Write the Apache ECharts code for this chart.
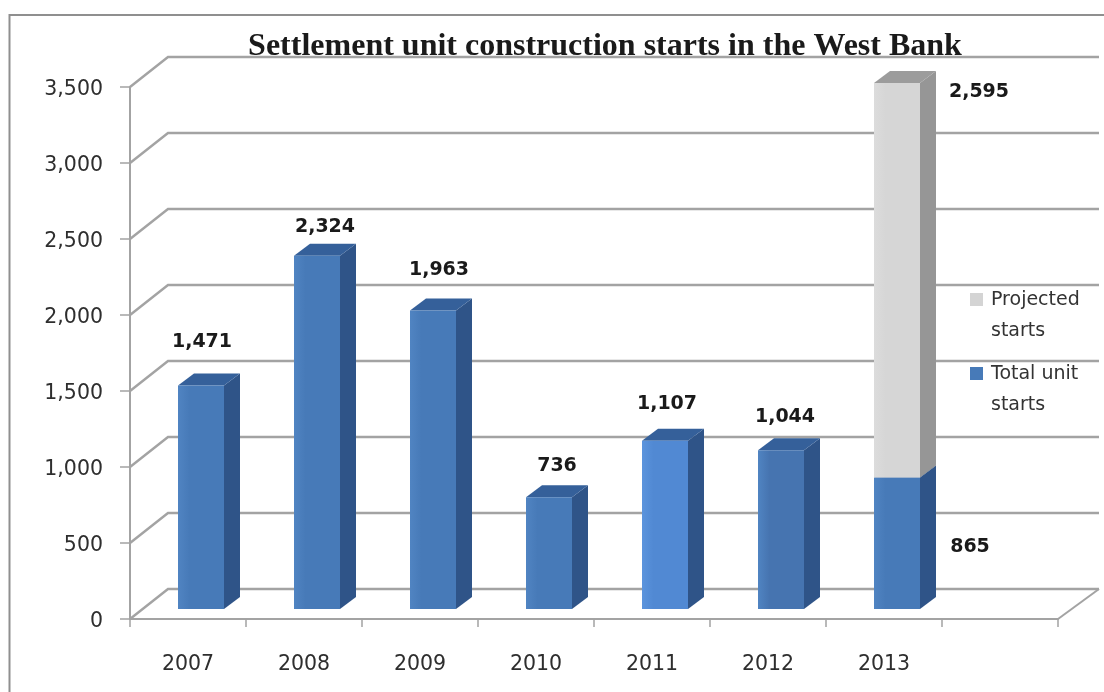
<!DOCTYPE html>
<html>
<head>
<meta charset="utf-8">
<style>html,body{margin:0;padding:0;background:#fff}#c{width:1104px;height:692px}</style>
<script src="https://cdn.jsdelivr.net/npm/echarts@6/dist/echarts.min.js"></script>
</head>
<body>
<div id="c"></div>
<script>
const categories = ['2007','2008','2009','2010','2011','2012','2013',''];
const totalUnitStarts = [1471,2324,1963,736,1107,1044,865,null];
const projectedStarts = [null,null,null,null,null,null,2595,null];
const yTicks = [0,500,1000,1500,2000,2500,3000,3500];

// Styling, kept apart from the data
const WALL = {dx:38, dy:-30, overrun:3};
const BAR = {inset:48, width:46, floorDy:-10, sideDx:16, sideDy:-12};
const frontColors = ['#477ab8','#477ab8','#477ab8','#477ab8','#5189d3','#4674b0','#477ab8',null];
const labelNudge = [[1,-43],[8,-29],[6,-41],[8,-31],[2,-37],[4,-33],[73,4],[0,0]];

const fmt = v => v.toLocaleString('en-US');

function poly(points, fill){
  return {type:'polygon', shape:{points}, style:{fill}};
}
function labelText(x,y,v){
  return {type:'text', z2:10, style:{x,y,text:fmt(v),align:'center',verticalAlign:'middle',
    font:'bold 19px "DejaVu Sans"',fill:'#1a1a1a'}};
}
function drawBar(params, api, colors, base, nudge){
  const i = api.value(0), v = api.value(1);
  const cs = params.coordSys;
  const band = api.size([1,0])[0];
  const left = cs.x + band*i + BAR.inset;
  const right = left + BAR.width;
  const y0 = api.coord([i, base])[1] + BAR.floorDy;
  const y1 = api.coord([i, base+v])[1] + BAR.floorDy;
  const sx = BAR.sideDx, sy = BAR.sideDy;
  const kids = [
    poly([[right,y0],[right+sx,y0+sy],[right+sx,y1+sy],[right,y1]], colors.side),
    poly([[left,y1],[right,y1],[right+sx,y1+sy],[left+sx,y1+sy]], colors.top),
    {type:'rect', shape:{x:left,y:y1,width:BAR.width,height:y0-y1},
      style:{fill:new echarts.graphic.LinearGradient(0,0,1,0,[
        {offset:0,color:colors.edge},{offset:0.25,color:colors.front},{offset:1,color:colors.front}])}}
  ];
  kids.push(labelText((left+right)/2+nudge[0], (nudge.fromMid?(y0+y1)/2:y1)+nudge[1], v));
  return {type:'group', children:kids};
}

const chart = echarts.init(document.getElementById('c'), null, {renderer:'canvas'});
chart.setOption({
  animation:false,
  backgroundColor:'#ffffff',
  textStyle:{fontFamily:'"DejaVu Sans"'},
  title:{text:'Settlement unit construction starts in the West Bank',left:600,top:26,textAlign:'center',
    textStyle:{fontFamily:'"Liberation Serif"',fontWeight:'bold',fontSize:32,color:'#1a1a1a'}},
  grid:{left:130,right:46,top:87,bottom:73},
  legend:{
    orient:'vertical',left:970,top:285,padding:0,itemWidth:13,itemHeight:62,itemGap:12,
    data:['Projected starts','Total unit starts'],
    icon:'path://M0,0H13V0H0ZM0,8H13V21H0ZM0,62H13V62H0Z',
    formatter:n=>n.replace(/ (\S+)$/,'\n$1'),
    textStyle:{fontFamily:'"DejaVu Sans"',fontSize:19,lineHeight:31,color:'#333333',padding:[0,0,0,3]}
  },
  xAxis:{type:'category',data:categories,
    axisLine:{lineStyle:{color:'#a3a3a3',width:2}},
    axisTick:{show:true,length:8,lineStyle:{color:'#a3a3a3',width:1.5}},
    axisLabel:{margin:35,fontFamily:'"DejaVu Sans"',fontSize:20.5,color:'#2e2e2e',interval:0}},
  yAxis:{type:'value',min:0,max:3500,interval:500,
    splitLine:{show:false},
    axisLine:{show:true,lineStyle:{color:'#a3a3a3',width:2}},
    axisTick:{show:true,length:10,lineStyle:{color:'#a3a3a3',width:1.5}},
    axisLabel:{margin:27,fontFamily:'"DejaVu Sans"',fontSize:20.5,color:'#2e2e2e',verticalAlign:'top',lineHeight:6}},
  graphic:[{type:'polyline',silent:true,shape:{points:[[9.5,700],[9.5,15],[1110,15]]},
    style:{stroke:'#8f8f8f',lineWidth:2,fill:null}}],
  series:[
    {type:'custom',name:'walls',silent:true,z:1,data:yTicks.map(v=>[v]),encode:{y:0},
      renderItem(params,api){
        const v = api.value(0), cs = params.coordSys;
        const p = api.coord([0,v]);
        const x0 = cs.x, x1 = cs.x+cs.width, y = p[1];
        const kids = [{type:'polyline',shape:{points:[[x0,y],[x0+WALL.dx,y+WALL.dy],[x1+WALL.dx+WALL.overrun,y+WALL.dy]]},
          style:{stroke:'#a3a3a3',lineWidth:2.4,fill:null}}];
        if(v===0) kids.push({type:'line',shape:{x1:x1,y1:y,x2:x1+WALL.dx+WALL.overrun,y2:y+WALL.dy},style:{stroke:'#a3a3a3',lineWidth:2}});
        return {type:'group',children:kids};
      }},
    {type:'custom',name:'Total unit starts',z:3,itemStyle:{color:'#477ab8'},
      data:totalUnitStarts.map((v,i)=>[i,v]).filter(d=>d[1]!==null),encode:{x:0,y:1},
      renderItem(params,api){
        const i = api.value(0);
        const nudge = labelNudge[i].slice();
        if(i===6) nudge.fromMid = true;
        return drawBar(params,api,{front:frontColors[i],edge:i===4?'#5b94dd':'#5084c2',side:'#2f5488',top:'#35609a'},0,nudge);
      }},
    {type:'custom',name:'Projected starts',z:4,itemStyle:{color:'#d4d4d4'},
      data:projectedStarts.map((v,i)=>[i,v]).filter(d=>d[1]!==null),encode:{x:0,y:1},
      renderItem(params,api){
        const i = api.value(0);
        return drawBar(params,api,{front:'#d6d6d6',edge:'#dcdcdc',side:'#969696',top:'#9c9c9c'},totalUnitStarts[i],[82,9]);
      }}
  ]
});
</script>
</body>
</html>
